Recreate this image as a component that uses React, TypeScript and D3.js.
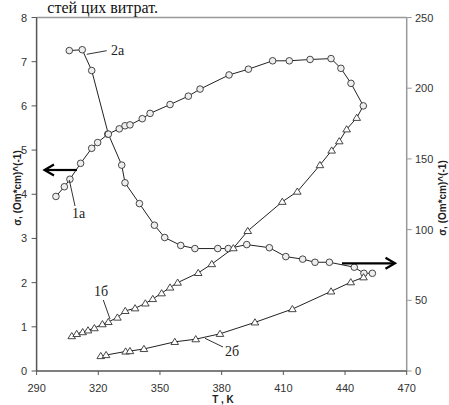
import React from "react";
import * as d3 from "d3";

// T (K) and conductivity values
const t1a = [299.4, 303.5, 306.2, 311.4, 316.8, 319.7, 324.6, 330.2, 333.0, 335.4, 341.4, 345.2, 354.9, 363.8, 369.5, 383.6, 393.0, 404.8, 412.9, 423.0, 433.2, 438.0, 442.9, 448.9];
const v1a = [3.95, 4.17, 4.34, 4.70, 5.04, 5.17, 5.36, 5.48, 5.55, 5.57, 5.71, 5.83, 6.03, 6.22, 6.38, 6.70, 6.83, 7.02, 7.02, 7.05, 7.07, 6.85, 6.51, 6.00];

const t1b = [307.1, 309.5, 312.4, 315.0, 318.1, 322.0, 324.9, 329.3, 333.1, 337.9, 342.9, 346.5, 350.8, 354.9, 358.6, 368.6, 375.2, 385.7, 392.7, 409.5, 416.8, 427.8, 433.5, 437.2, 440.8, 445.7];
const v1b = [0.79, 0.84, 0.88, 0.92, 0.97, 1.06, 1.11, 1.21, 1.36, 1.42, 1.53, 1.63, 1.76, 1.89, 2.00, 2.22, 2.42, 2.78, 3.17, 3.83, 4.06, 4.66, 4.99, 5.20, 5.47, 5.73];

// right axis series
const t2a = [305.9, 312.2, 316.8, 324.9, 331.4, 333.0, 340.0, 347.3, 352.3, 360.1, 367.0, 378.1, 383.2, 392.2, 403.2, 411.2, 419.4, 425.4, 432.4, 444.5, 449.2, 453.3];
const v2a = [226.6, 227.2, 212.5, 167.5, 145.6, 133.1, 118.4, 103.1, 94.4, 88.8, 86.6, 86.6, 86.6, 89.4, 87.2, 80.9, 79.1, 76.9, 76.9, 73.4, 69.1, 69.1];

const t2b = [321.2, 323.8, 333.3, 335.4, 342.2, 357.2, 367.4, 379.2, 396.2, 414.4, 433.2, 442.8, 449.0];
const v2b = [10.6, 11.3, 13.8, 14.1, 15.6, 20.6, 22.5, 26.3, 34.4, 43.8, 56.3, 62.8, 66.3];

const xTicks = [290, 320, 350, 380, 410, 440, 470];
const yLeftTicks = [0, 1, 2, 3, 4, 5, 6, 7, 8];
const yRightTicks = [0, 50, 100, 150, 200, 250];

type P = [number, number];
const zip = (a: number[], b: number[]): P[] => a.map((t, i) => [t, b[i]]);

export default function App() {
  const x = d3.scaleLinear().domain([290, 470]).range([36.6, 406.7]);
  const yL = d3.scaleLinear().domain([0, 8]).range([371, 17.5]);
  const yR = d3.scaleLinear().domain([0, 250]).range([371, 17.5]);

  const d1a = zip(t1a, v1a);
  const d1b = zip(t1b, v1b);
  const d2a = zip(t2a, v2a);
  const d2b = zip(t2b, v2b);

  const lineL = d3.line<P>().x((d) => x(d[0])).y((d) => yL(d[1]));
  const lineR = d3.line<P>().x((d) => x(d[0])).y((d) => yR(d[1]));

  const tri = (cx: number, cy: number) =>
    `M${cx},${cy - 3.6}L${cx + 3.8},${cy + 2.6}L${cx - 3.8},${cy + 2.6}Z`;

  const tickFont = { fontFamily: "Liberation Sans, Arial, sans-serif", fontSize: 11, fill: "#333" };
  const lblFont = { fontFamily: "Liberation Serif, Times New Roman, serif", fontSize: 14, fill: "#222" };
  const axisTitle = { fontFamily: "Liberation Sans, Arial, sans-serif", fontSize: 10, fontWeight: 700, fill: "#222" };

  return (
    <svg width={449} height={405} style={{ position: "absolute", left: 0, top: 0, background: "#fff" }}>
      <text x={158} y={13} textAnchor="end" style={{ fontFamily: "Liberation Serif, Times New Roman, serif", fontSize: 16, fill: "#111" }}>
        стей цих витрат.
      </text>

      {/* frame */}
      <line x1={x(290)} x2={x(470)} y1={yL(8)} y2={yL(8)} stroke="#999" strokeWidth={1.5} />
      <line x1={x(470)} x2={x(470)} y1={yL(8)} y2={yL(0)} stroke="#999" strokeWidth={1.5} />
      <line x1={x(290)} x2={x(290)} y1={yL(8)} y2={yL(0)} stroke="#555" strokeWidth={1.5} />
      <line x1={x(290)} x2={x(470)} y1={yL(0)} y2={yL(0)} stroke="#555" strokeWidth={1.5} />

      {/* left ticks */}
      {yLeftTicks.map((v) => (
        <g key={"l" + v}>
          <line x1={x(290) - 5} x2={x(290)} y1={yL(v)} y2={yL(v)} stroke="#555" strokeWidth={1} />
          <text x={27} y={yL(v) + 4} textAnchor="end" style={tickFont}>{v}</text>
        </g>
      ))}
      {/* right ticks */}
      {yRightTicks.map((v) => (
        <g key={"r" + v}>
          <line x1={x(470)} x2={x(470) + 5} y1={yR(v)} y2={yR(v)} stroke="#999" strokeWidth={1} />
          <text x={415} y={yR(v) + 4} textAnchor="start" style={tickFont}>{v}</text>
        </g>
      ))}
      {/* x ticks */}
      {xTicks.map((t) => (
        <g key={"x" + t}>
          <line x1={x(t)} x2={x(t)} y1={yL(0)} y2={yL(0) + 4} stroke="#555" strokeWidth={1} />
          <text x={x(t)} y={392} textAnchor="middle" style={tickFont}>{t}</text>
        </g>
      ))}

      <text x={223} y={403} textAnchor="middle" style={axisTitle}>T , K</text>
      <text transform="translate(21,188) rotate(-90)" textAnchor="middle" style={axisTitle}>σ, (Om*cm)^(-1)</text>
      <text transform="translate(446,198) rotate(-90)" textAnchor="middle" style={axisTitle}>σ, (Om*cm)^(-1)</text>

      {/* lines */}
      <path d={lineL(d1a) || ""} fill="none" stroke="#222" strokeWidth={1} />
      <path d={lineL([...d1b, d1a[d1a.length - 1]]) || ""} fill="none" stroke="#222" strokeWidth={1} />
      <path d={lineR(d2a) || ""} fill="none" stroke="#222" strokeWidth={1} />
      <path d={lineR(d2b) || ""} fill="none" stroke="#222" strokeWidth={1} />

      {/* markers */}
      {d1a.map((d, i) => (
        <circle key={"c1" + i} cx={x(d[0])} cy={yL(d[1])} r={3.3} fill="#eee" stroke="#333" strokeWidth={0.9} />
      ))}
      {d2a.map((d, i) => (
        <circle key={"c2" + i} cx={x(d[0])} cy={yR(d[1])} r={3.3} fill="#eee" stroke="#333" strokeWidth={0.9} />
      ))}
      {d1b.map((d, i) => (
        <path key={"t1" + i} d={tri(x(d[0]), yL(d[1]))} fill="#fff" stroke="#333" strokeWidth={0.9} />
      ))}
      {d2b.map((d, i) => (
        <path key={"t2" + i} d={tri(x(d[0]), yR(d[1]))} fill="#fff" stroke="#333" strokeWidth={0.9} />
      ))}

      {/* curve labels */}
      <line x1={86.7} y1={54.3} x2={106.7} y2={50.7} stroke="#333" strokeWidth={1} />
      <text x={111} y={55} style={lblFont}>2а</text>
      <line x1={69.3} y1={180} x2={75} y2={206} stroke="#333" strokeWidth={1} />
      <text x={72} y={218} style={lblFont}>1а</text>
      <line x1={103.3} y1={300} x2={110} y2={319} stroke="#333" strokeWidth={1} />
      <text x={94} y={296} style={lblFont}>1б</text>
      <line x1={205} y1={338.3} x2={223} y2={347} stroke="#333" strokeWidth={1} />
      <text x={225} y={356} style={lblFont}>2б</text>

      {/* arrows */}
      <g stroke="#000" strokeWidth={2.2} fill="none">
        <line x1={77} y1={170} x2={45} y2={170} />
        <polyline points="54,164.5 44.5,170 54,175.5" />
        <line x1={342} y1={263.3} x2={394} y2={263.3} />
        <polyline points="385.5,257.8 395,263.3 385.5,268.8" />
      </g>
    </svg>
  );
}
